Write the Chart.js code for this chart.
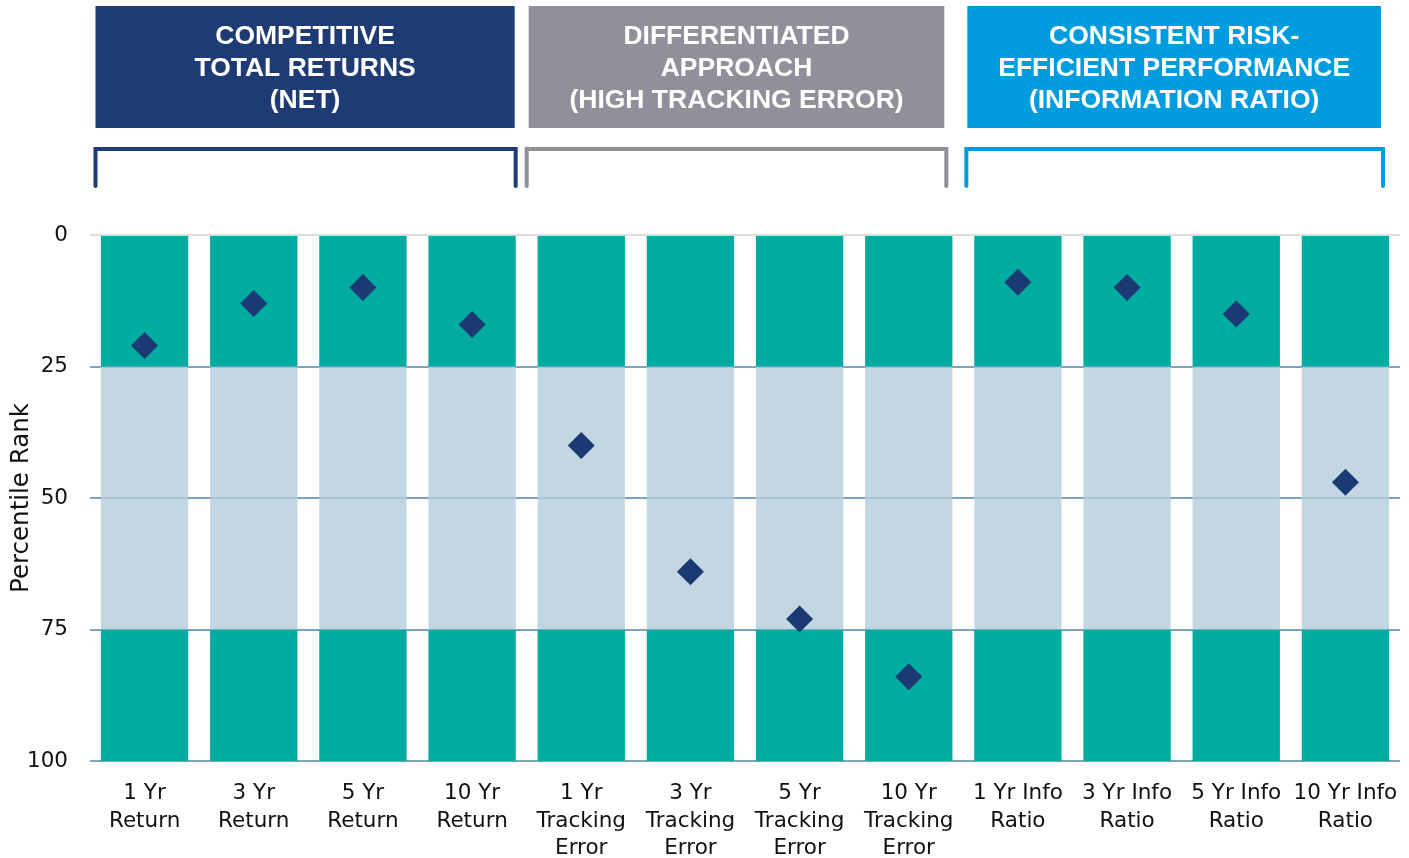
<!DOCTYPE html>
<html>
<head>
<meta charset="utf-8">
<script src="https://cdn.jsdelivr.net/npm/chart.js@4.4.1/dist/chart.umd.min.js"></script>
<style>
html, body { margin:0; padding:0; background:#fff; }
#wrap { width:1409px; height:858px; }
</style>
</head>
<body>
<div id="wrap"><canvas id="rankChart" width="1409" height="858"></canvas></div>
<script>
// categories (x axis, multi-line)
var categories = [
    ["1 Yr", "Return"], ["3 Yr", "Return"], ["5 Yr", "Return"], ["10 Yr", "Return"],
    ["1 Yr", "Tracking", "Error"], ["3 Yr", "Tracking", "Error"], ["5 Yr", "Tracking", "Error"], ["10 Yr", "Tracking", "Error"],
    ["1 Yr Info", "Ratio"], ["3 Yr Info", "Ratio"], ["5 Yr Info", "Ratio"], ["10 Yr Info", "Ratio"]
]
// quartile bands (stacked from 0 down to 100)
var topQuartile = [25, 25, 25, 25, 25, 25, 25, 25, 25, 25, 25, 25]
var middleHalf = [50, 50, 50, 50, 50, 50, 50, 50, 50, 50, 50, 50]
var bottomQuartile = [25, 25, 25, 25, 25, 25, 25, 25, 25, 25, 25, 25]
// percentile rank of the strategy
var percentileRank = [21, 13, 10, 17, 40, 64, 73, 84, 9, 10, 15, 47]
var yTicks = [0, 25, 50, 75, 100]

// group headers
var groupTitles = [
    ["COMPETITIVE", "TOTAL RETURNS", "(NET)"],
    ["DIFFERENTIATED", "APPROACH", "(HIGH TRACKING ERROR)"],
    ["CONSISTENT RISK-", "EFFICIENT PERFORMANCE", "(INFORMATION RATIO)"]
]
var groupFirst = [0, 4, 8]
var groupLast = [3, 7, 11]
var groupColors = ["#1e3b73", "#8f9099", "#009cde"]
// insets from category edges (left, right) for boxes and brackets
var boxInset = [[5.5, 12], [2, 19], [4, 19]]
var bracketInset = [[5.5, 11], [0, 17], [3, 17]]

var groupHeaders = {
    id: 'groupHeaders',
    afterDraw: function (chart) {
        var ctx = chart.ctx
        var x = chart.scales.x
        var step = x.getPixelForValue(1) - x.getPixelForValue(0)
        ctx.save()
        for (let g = 0; g < groupTitles.length; g++) {
            let left = x.getPixelForValue(groupFirst[g]) - step / 2
            let right = x.getPixelForValue(groupLast[g]) + step / 2
            // box
            let bl = left + boxInset[g][0], br = right - boxInset[g][1]
            ctx.fillStyle = groupColors[g]
            ctx.fillRect(bl, 6, br - bl, 122)
            ctx.fillStyle = "#ffffff"
            ctx.font = "bold 26.5px 'Liberation Sans', Arial, sans-serif"
            ctx.textAlign = "center"
            ctx.textBaseline = "middle"
            for (let i = 0; i < groupTitles[g].length; i++) {
                ctx.fillText(groupTitles[g][i], (bl + br) / 2, 37 + i * 32)
            }
            // bracket
            let kl = left + bracketInset[g][0], kr = right - bracketInset[g][1]
            ctx.strokeStyle = groupColors[g]
            ctx.lineWidth = 4
            ctx.lineCap = "round"
            ctx.lineJoin = "miter"
            ctx.beginPath()
            ctx.moveTo(kl, 186)
            ctx.lineTo(kl, 149)
            ctx.lineTo(kr, 149)
            ctx.lineTo(kr, 186)
            ctx.stroke()
        }
        ctx.restore()
    }
}

var tickFont = { family: "'DejaVu Sans', sans-serif", size: 21.5, lineHeight: 1.3 }

var rankChart = new Chart(document.getElementById("rankChart"), {
    type: "bar",
    data: {
        labels: categories,
        datasets: [{
            type: "line",
            label: "Percentile Rank",
            data: percentileRank,
            showLine: false,
            pointStyle: "rectRot",
            pointRadius: 13.5,
            pointHoverRadius: 13.5,
            pointBackgroundColor: "#1b3a73",
            pointBorderWidth: 0,
            stack: "points",
            order: 0
        }, {
            label: "Top quartile",
            data: topQuartile,
            backgroundColor: "#00ab9f",
            barPercentage: 0.8,
            categoryPercentage: 1,
            stack: "bands",
            order: 1
        }, {
            label: "Middle",
            data: middleHalf,
            backgroundColor: "rgba(180,205,219,0.8)",
            barPercentage: 0.8,
            categoryPercentage: 1,
            stack: "bands",
            order: 1
        }, {
            label: "Bottom quartile",
            data: bottomQuartile,
            backgroundColor: "#00ab9f",
            barPercentage: 0.8,
            categoryPercentage: 1,
            stack: "bands",
            order: 1
        }]
    },
    options: {
        responsive: false,
        animation: false,
        layout: { autoPadding: false, padding: { top: 235, left: 7, right: 9, bottom: 0 } },
        plugins: {
            legend: { display: false },
            tooltip: { enabled: false }
        },
        scales: {
            x: {
                stacked: true,
                grid: { display: false },
                border: { display: false },
                ticks: {
                    font: tickFont,
                    color: "#111111",
                    padding: 10,
                    maxRotation: 0,
                    autoSkip: false
                },
                afterFit: function (scale) {
                    scale.height = 97
                    scale.paddingLeft = 0
                    scale.paddingRight = 0
                }
            },
            y: {
                stacked: true,
                reverse: true,
                min: 0,
                max: 100,
                afterBuildTicks: function (scale) {
                    scale.ticks = yTicks.map(function (v) { return { value: v } })
                },
                grid: {
                    drawTicks: false,
                    lineWidth: 2,
                    color: function (c) {
                        return c.tick && c.tick.value === 0 ? "#dcdcdc" : "#7ea3bf"
                    }
                },
                border: { display: false },
                ticks: {
                    font: tickFont,
                    color: "#111111",
                    padding: 22
                },
                title: {
                    display: true,
                    text: "Percentile Rank",
                    font: { family: "'DejaVu Sans', sans-serif", size: 24.5 },
                    color: "#111111",
                    padding: 0
                },
                afterFit: function (scale) { scale.width = 83 }
            }
        }
    },
    plugins: [groupHeaders]
})
</script>
</body>
</html>
